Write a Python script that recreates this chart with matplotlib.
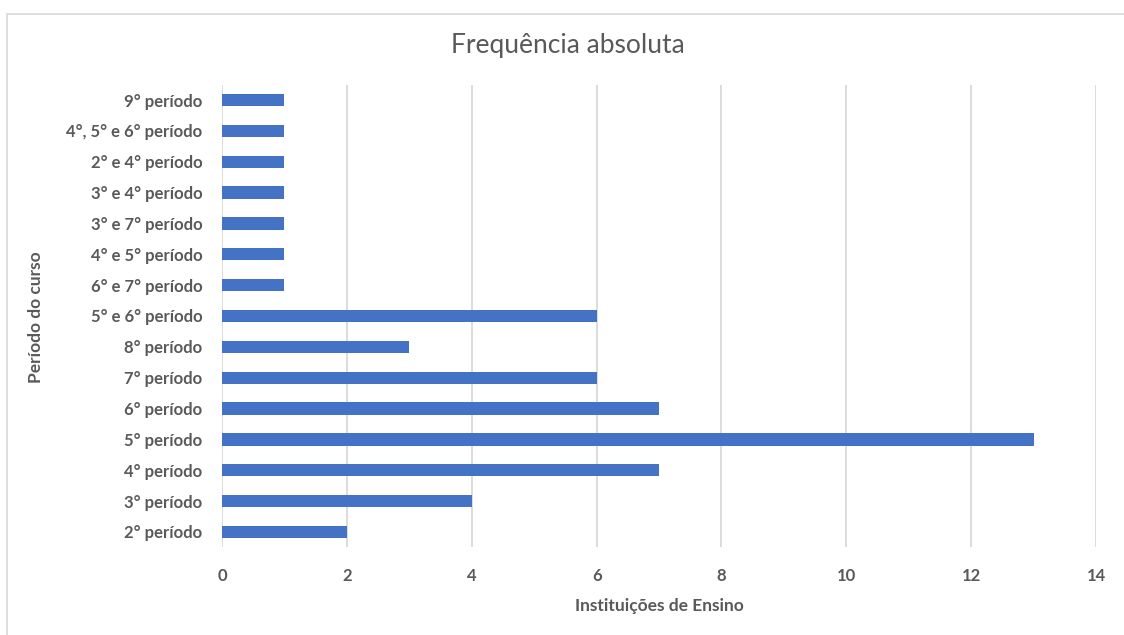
import numpy as np
import matplotlib
matplotlib.use('Agg')
from matplotlib import pyplot as plt
from matplotlib.patches import Rectangle

categories = [
    '2° período', '3° período', '4° período', '5° período', '6° período',
    '7° período', '8° período', '5° e 6° período', '6° e 7° período',
    '4° e 5° período', '3° e 7° período', '3° e 4° período', '2° e 4° período',
    '4°, 5° e 6° período', '9° período',
]
values = [2, 4, 7, 13, 7, 6, 3, 6, 1, 1, 1, 1, 1, 1, 1]
x_ticks = [0, 2, 4, 6, 8, 10, 12, 14]

plt.rcParams['font.family'] = ['Lato', 'DejaVu Sans']
text_color = '#595959'

fig = plt.figure(figsize=(11.24, 6.35), dpi=100)
# chart frame, cut off at right and bottom like the screenshot
fig.patches.append(Rectangle((7 / 1124, -10 / 635), 1130 / 1124, 631 / 635,
                             transform=fig.transFigure, fill=False,
                             edgecolor='#D9D9D9', linewidth=1.2))

ax = fig.add_axes([0.1975, 0.138, 0.7776, 0.7288])
y = np.arange(len(categories))
ax.barh(y, values, height=0.4, color='#4472C4', zorder=3)
ax.set_yticks(y, labels=categories)
ax.set_ylim(-0.5, len(categories) - 0.5)
ax.set_xlim(0, 14)
ax.set_xticks(x_ticks)
ax.grid(axis='x', color='#D9D9D9', linewidth=1.3, zorder=0)
for side in ['top', 'right', 'bottom', 'left']:
    ax.spines[side].set_visible(False)
ax.tick_params(axis='both', length=0, colors=text_color, labelsize=12)
ax.tick_params(axis='y', pad=14)
ax.tick_params(axis='x', pad=15)
for label in ax.get_yticklabels() + ax.get_xticklabels():
    label.set_fontweight('bold')

fig.text(568 / 1124, 1 - 45 / 635, 'Frequência absoluta', fontsize=19,
         color=text_color, ha='center', va='center')
ax.set_xlabel('Instituições de Ensino', fontsize=12.5, color=text_color,
              fontweight='bold', labelpad=10)
fig.text(36 / 1124, 0.5, 'Período do curso', rotation=90, va='center', ha='center',
         fontsize=12.5, color=text_color, fontweight='bold')

fig.savefig('out.png', dpi=100)
